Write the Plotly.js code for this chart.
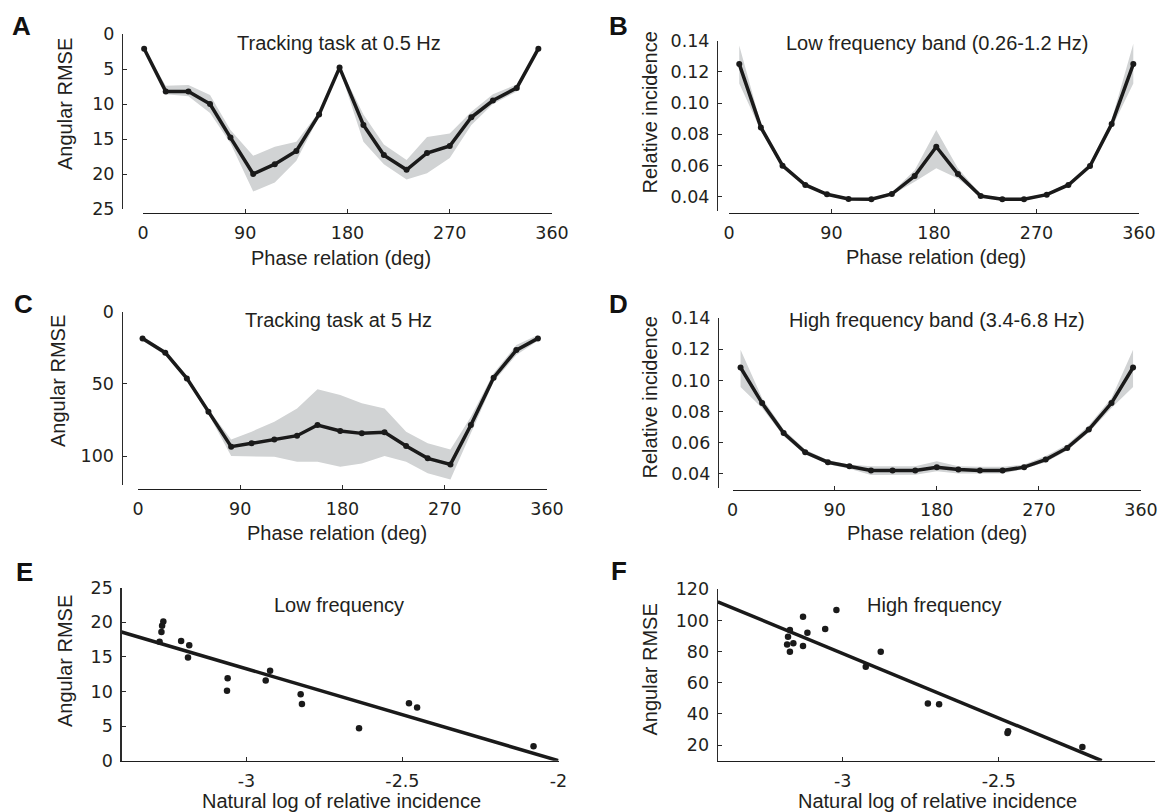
<!DOCTYPE html>
<html>
<head>
<meta charset="utf-8">
<script src="https://cdn.plot.ly/plotly-3.0.1.min.js"></script>
<style>html,body{margin:0;padding:0;background:#fff;}#chart{width:1162px;height:812px;}</style>
</head>
<body>
<div id="chart"></div>
<script>
// ---------- data ----------
// Panel A: tracking task at 0.5 Hz
const phaseA = [1, 20, 40, 59, 77, 97, 116, 135, 155, 173, 194, 212, 232, 250, 270, 289, 308, 329, 348];
const rmseA = [2.1, 8.2, 8.2, 10.0, 14.8, 20.0, 18.6, 16.7, 11.5, 4.8, 13.0, 17.3, 19.4, 17.0, 16.0, 11.9, 9.5, 7.7, 2.1];
const rmseALo = [2.1, 7.4, 7.3, 8.7, 13.7, 17.4, 16.1, 15.4, 11.1, 4.6, 11.5, 15.8, 18.0, 14.7, 14.2, 11.1, 8.6, 7.2, 2.1];
const rmseAHi = [2.1, 8.6, 8.9, 11.3, 15.6, 22.5, 21.2, 18.1, 11.8, 5.0, 15.4, 18.6, 20.8, 19.9, 17.7, 13.0, 10.0, 8.2, 2.1];

// Panel B: low frequency band
const phaseB = [9, 28, 47, 67, 86, 105, 125, 143, 163, 182, 201, 221, 240, 259, 279, 298, 317, 336, 355];
const incB = [0.125, 0.0844, 0.0599, 0.0475, 0.0415, 0.0385, 0.0383, 0.0417, 0.0532, 0.0720, 0.0545, 0.0404, 0.0383, 0.0383, 0.0413, 0.0475, 0.0597, 0.0866, 0.125];
const incBLo = [0.1126, 0.0823, 0.0587, 0.0466, 0.0408, 0.0380, 0.0379, 0.0410, 0.0496, 0.0582, 0.0517, 0.0398, 0.0380, 0.0380, 0.0408, 0.0467, 0.0583, 0.0840, 0.1126];
const incBHi = [0.137, 0.0866, 0.0611, 0.0488, 0.0423, 0.0393, 0.0391, 0.0428, 0.0570, 0.0827, 0.0582, 0.0414, 0.0393, 0.0393, 0.0420, 0.0487, 0.0614, 0.0893, 0.138];

// Panel C: tracking task at 5 Hz
const phaseC = [4, 24, 43, 62, 82, 100, 120, 140, 158, 178, 197, 217, 236, 255, 275, 293, 313, 333, 352];
const rmseC = [18.5, 28.4, 46.2, 69.3, 93.5, 91.2, 88.5, 85.9, 78.5, 82.7, 84.3, 83.6, 93.1, 101.6, 105.8, 78.5, 45.7, 26.6, 18.5];
const rmseCLo = [16.9, 27.0, 44.6, 67.7, 88.5, 83.1, 76.2, 67.0, 53.8, 57.7, 63.5, 67.0, 83.1, 91.2, 95.4, 72.7, 42.7, 23.1, 16.2];
const rmseCHi = [20.1, 30.0, 47.8, 70.9, 100.0, 100.0, 100.5, 103.9, 103.9, 107.4, 105.1, 100.0, 103.9, 112.0, 116.2, 84.3, 48.5, 30.0, 20.1];

// Panel D: high frequency band
const phaseD = [7, 26, 45, 64, 84, 103, 122, 141, 161, 180, 199, 218, 238, 257, 276, 295, 314, 334, 353];
const incD = [0.1083, 0.0854, 0.0661, 0.0537, 0.0473, 0.0447, 0.0419, 0.0419, 0.0419, 0.0441, 0.0426, 0.0419, 0.0419, 0.0441, 0.0490, 0.0565, 0.0683, 0.0854, 0.1083];
const incDLo = [0.0957, 0.0822, 0.0640, 0.0522, 0.0460, 0.0430, 0.0390, 0.0392, 0.0392, 0.0415, 0.0400, 0.0400, 0.0400, 0.0430, 0.0473, 0.0548, 0.0664, 0.0822, 0.0957];
const incDHi = [0.1197, 0.0886, 0.0683, 0.0554, 0.0486, 0.0458, 0.0447, 0.0447, 0.0447, 0.0479, 0.0447, 0.0443, 0.0443, 0.0458, 0.0513, 0.0587, 0.0709, 0.0886, 0.1197];

// Panel E: low frequency scatter + fit
const lnLow = [-3.278, -3.272, -3.270, -3.266, -3.209, -3.183, -3.187, -3.060, -3.062, -2.938, -2.924, -2.826, -2.822, -2.639, -2.479, -2.453, -2.080];
const rmseLow = [17.2, 18.6, 19.5, 20.1, 17.3, 16.7, 14.9, 11.9, 10.1, 11.6, 13.0, 9.6, 8.2, 4.7, 8.3, 7.7, 2.1];
const fitLowX = [-3.4, -2.0];
const fitLowY = [18.6, 0.0];

// Panel F: high frequency scatter + fit
const lnHigh = [-3.178, -3.175, -3.169, -3.169, -3.158, -3.127, -3.127, -3.113, -3.056, -3.020, -2.926, -2.878, -2.727, -2.691, -2.472, -2.470, -2.232];
const rmseHigh = [84.6, 89.6, 93.8, 79.9, 85.3, 102.4, 83.6, 92.1, 94.5, 106.7, 70.3, 79.9, 46.7, 46.3, 27.8, 28.9, 18.8];
const fitHighX = [-3.4, -2.17];
const fitHighY = [112.0, 10.0];

// tick values / labels
const phaseTicks = [0, 90, 180, 270, 360];
const rmseTicksA = [0, 5, 10, 15, 20, 25];
const rmseTicksC = [0, 50, 100];
const incTicks = [0.04, 0.06, 0.08, 0.10, 0.12, 0.14];
const lnTicks = [-3, -2.5, -2];
const lnTickText = ['-3', '-2.5', '-2'];
const rmseTicksE = [0, 5, 10, 15, 20, 25];
const rmseTicksF = [20, 40, 60, 80, 100, 120];

const panelLetters = ['A', 'B', 'C', 'D', 'E', 'F'];
const panelTitles = ['Tracking task at 0.5 Hz', 'Low frequency band (0.26-1.2 Hz)', 'Tracking task at 5 Hz',
  'High frequency band (3.4-6.8 Hz)', 'Low frequency', 'High frequency'];
const xTitles = ['Phase relation (deg)', 'Phase relation (deg)', 'Phase relation (deg)', 'Phase relation (deg)',
  'Natural log of relative incidence', 'Natural log of relative incidence'];
const yTitles = ['Angular RMSE', 'Relative incidence', 'Angular RMSE', 'Relative incidence', 'Angular RMSE', 'Angular RMSE'];

// ---------- layout helpers ----------
const W = 1162, H = 812;
const px = x => x / W;
const py = y => 1 - y / H;
const FONT = 'Liberation Sans, Arial, Helvetica, sans-serif';
const TICKFONT = 'DejaVu Sans, Liberation Sans, Arial, sans-serif';
const TXT = '#231f20';
const LINE = '#1a1a1a';
const BAND = '#d1d3d4';

function axisBase(extra) {
  return Object.assign({
    showgrid: false, zeroline: false, showline: true,
    linecolor: '#2a2a2a', linewidth: 1.2,
    ticks: 'inside', ticklen: 4, tickwidth: 1, tickcolor: '#2a2a2a',
    tickfont: { family: TICKFONT, size: 17.5, color: TXT },
    fixedrange: true
  }, extra);
}

const traces = [];
function bandPanel(xs, ys, lo, hi, xa, ya) {
  traces.push({ x: xs, y: lo, xaxis: xa, yaxis: ya, type: 'scatter', mode: 'lines',
    line: { width: 0, color: BAND }, hoverinfo: 'skip', showlegend: false });
  traces.push({ x: xs, y: hi, xaxis: xa, yaxis: ya, type: 'scatter', mode: 'lines', fill: 'tonexty',
    fillcolor: BAND, line: { width: 0, color: BAND }, hoverinfo: 'skip', showlegend: false });
  traces.push({ x: xs, y: ys, xaxis: xa, yaxis: ya, type: 'scatter', mode: 'lines+markers',
    line: { width: 3.5, color: LINE }, marker: { size: 6, color: LINE }, showlegend: false, cliponaxis: false });
}
bandPanel(phaseA, rmseA, rmseALo, rmseAHi, 'x', 'y');
bandPanel(phaseB, incB, incBLo, incBHi, 'x2', 'y2');
bandPanel(phaseC, rmseC, rmseCLo, rmseCHi, 'x3', 'y3');
bandPanel(phaseD, incD, incDLo, incDHi, 'x4', 'y4');

function scatterPanel(xs, ys, fx, fy, xa, ya) {
  traces.push({ x: fx, y: fy, xaxis: xa, yaxis: ya, type: 'scatter', mode: 'lines',
    line: { width: 3.5, color: LINE }, showlegend: false, cliponaxis: false });
  traces.push({ x: xs, y: ys, xaxis: xa, yaxis: ya, type: 'scatter', mode: 'markers',
    marker: { size: 6.5, color: LINE }, showlegend: false, cliponaxis: false });
}
scatterPanel(lnLow, rmseLow, fitLowX, fitLowY, 'x5', 'y5');
scatterPanel(lnHigh, rmseHigh, fitHighX, fitHighY, 'x6', 'y6');

const phaseAxis = (dom, pos) => axisBase({ domain: dom, anchor: 'free', position: pos, range: [0, 360],
  tickvals: phaseTicks, ticklabelstandoff: 4, linewidth: 1.4, linecolor: '#1e1e1e' });

const layout = {
  width: W, height: H,
  margin: { l: 0, r: 0, t: 0, b: 0 },
  paper_bgcolor: '#fff', plot_bgcolor: 'rgba(0,0,0,0)',
  showlegend: false,
  font: { family: FONT, color: TXT },
  // A
  xaxis: phaseAxis([px(143), px(552)], py(213)),
  yaxis: axisBase({ domain: [py(209), py(34)], anchor: 'free', position: px(122), range: [25, 0],
    tickvals: rmseTicksA, ticklabelstandoff: 4 }),
  // B
  xaxis2: phaseAxis([px(729), px(1139)], py(213)),
  yaxis2: axisBase({ domain: [py(210.7), py(40.7)], anchor: 'free', position: px(717), range: [0.031, 0.14],
    tickvals: incTicks, tickformat: '.2f', ticklabelstandoff: 4 }),
  // C
  xaxis3: phaseAxis([px(138), px(547)], py(489)),
  yaxis3: axisBase({ domain: [py(484.9), py(311.7)], anchor: 'free', position: px(121.5), range: [120, 0],
    tickvals: rmseTicksC, ticklabelstandoff: 4 }),
  // D
  xaxis4: phaseAxis([px(732.6), px(1141)], py(490)),
  yaxis4: axisBase({ domain: [py(487.5), py(318.3)], anchor: 'free', position: px(717.8), range: [0.031, 0.14],
    tickvals: incTicks, tickformat: '.2f', ticklabelstandoff: 4 }),
  // E
  xaxis5: axisBase({ domain: [px(121.5), px(558.5)], anchor: 'y5', range: [-3.4, -2], tickvals: lnTicks,
    ticktext: lnTickText, ticklabelstandoff: 4, linewidth: 1.4, linecolor: '#1e1e1e' }),
  yaxis5: axisBase({ domain: [py(760.7), py(587.7)], anchor: 'x5', range: [0, 25], tickvals: rmseTicksE, ticklabelstandoff: 4 }),
  // F
  xaxis6: axisBase({ domain: [px(717.8), px(1154.8)], anchor: 'y6', range: [-3.4, -2], tickvals: lnTicks,
    ticktext: lnTickText, ticklabelstandoff: 4, linewidth: 1.4, linecolor: '#1e1e1e' }),
  yaxis6: axisBase({ domain: [py(760.7), py(589.3)], anchor: 'x6', range: [10, 120], tickvals: rmseTicksF, ticklabelstandoff: 4 }),
  annotations: []
};

// positions (pixels) of letters, titles and axis titles
const letterPos = [[21, 26], [618, 26], [23, 303.5], [618, 303.5], [24, 572], [619, 571]];
const titlePos = [[339, 43], [937, 43], [338, 320], [937, 320], [339, 605], [934, 605]];
const xTitlePos = [[341, 258], [936, 257], [337, 533], [937, 533], [341.5, 801], [937, 801]];
const yTitlePos = [[65, 104], [649.5, 113], [58, 381], [649.5, 398], [65, 661], [649.5, 670]];

const ann = layout.annotations;
for (let i = 0; i < 6; i++) {
  ann.push({ text: '<b>' + panelLetters[i] + '</b>', xref: 'paper', yref: 'paper',
    x: px(letterPos[i][0]), y: py(letterPos[i][1]), xanchor: 'center', yanchor: 'middle', showarrow: false,
    font: { family: FONT, size: 26, color: '#111' } });
  ann.push({ text: panelTitles[i], xref: 'paper', yref: 'paper',
    x: px(titlePos[i][0]), y: py(titlePos[i][1]), xanchor: 'center', yanchor: 'middle', showarrow: false,
    font: { family: FONT, size: 20, color: TXT } });
  ann.push({ text: xTitles[i], xref: 'paper', yref: 'paper',
    x: px(xTitlePos[i][0]), y: py(xTitlePos[i][1]), xanchor: 'center', yanchor: 'middle', showarrow: false,
    font: { family: FONT, size: 20, color: TXT } });
  ann.push({ text: yTitles[i], xref: 'paper', yref: 'paper', textangle: -90,
    x: px(yTitlePos[i][0]), y: py(yTitlePos[i][1]), xanchor: 'center', yanchor: 'middle', showarrow: false,
    font: { family: FONT, size: 20, color: TXT } });
}

Plotly.newPlot('chart', traces, layout, { displayModeBar: false, staticPlot: true });
</script>
</body>
</html>
